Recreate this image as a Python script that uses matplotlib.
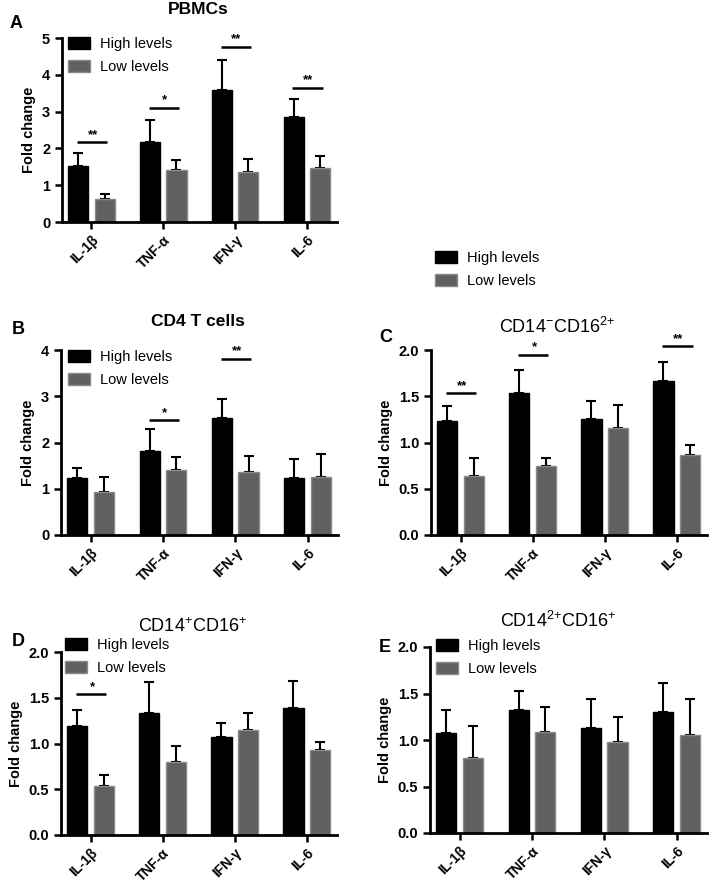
import numpy as np
import matplotlib
matplotlib.use("Agg")
import matplotlib.pyplot as plt

plt.rcParams['font.family'] = ['Liberation Sans', 'DejaVu Sans']
plt.rcParams['mathtext.default'] = 'regular'

cytokines = ['IL-1β', 'TNF-α', 'IFN-γ', 'IL-6']

# fold change means and top of error bars (mean + SEM)
pbmc_high = [1.53, 2.18, 3.60, 2.84]
pbmc_high_err = [1.87, 2.77, 4.39, 3.33]
pbmc_low = [0.63, 1.40, 1.36, 1.47]
pbmc_low_err = [0.77, 1.69, 1.70, 1.80]
pbmc_sig = {0: ('**', 2.17), 1: ('*', 3.10), 2: ('**', 4.76), 3: ('**', 3.65)}

cd4_high = [1.23, 1.82, 2.54, 1.23]
cd4_high_err = [1.44, 2.29, 2.95, 1.64]
cd4_low = [0.94, 1.41, 1.37, 1.25]
cd4_low_err = [1.25, 1.69, 1.71, 1.75]
cd4_sig = {1: ('*', 2.48), 2: ('**', 3.81)}

c_high = [1.23, 1.53, 1.25, 1.67]
c_high_err = [1.39, 1.78, 1.45, 1.87]
c_low = [0.64, 0.75, 1.16, 0.87]
c_low_err = [0.83, 0.83, 1.41, 0.97]
c_sig = {0: ('**', 1.53), 1: ('*', 1.95), 3: ('**', 2.04)}

d_high = [1.19, 1.33, 1.07, 1.39]
d_high_err = [1.37, 1.67, 1.22, 1.68]
d_low = [0.54, 0.80, 1.15, 0.93]
d_low_err = [0.66, 0.97, 1.33, 1.02]
d_sig = {0: ('*', 1.54)}

e_high = [1.08, 1.32, 1.13, 1.30]
e_high_err = [1.32, 1.53, 1.44, 1.61]
e_low = [0.81, 1.09, 0.98, 1.05]
e_low_err = [1.15, 1.35, 1.25, 1.44]
e_sig = {}

W, H = 709, 886
fig = plt.figure(figsize=(W / 100, H / 100), dpi=100)

BLACK = '#000000'
GRAY = '#606060'
GRAY_EDGE = '#8a8a8a'
off = 0.184
bw = 0.28


def px_axes(left, top, right, bottom):
    return fig.add_axes([left / W, 1 - bottom / H, (right - left) / W, (bottom - top) / H])


def panel(ax, high, high_err, low, low_err, sig, ymax, step, fmt):
    x = np.arange(len(cytokines))
    ax.errorbar(x - off, high, yerr=[np.zeros(4), np.array(high_err) - np.array(high)],
                fmt='none', ecolor='black', elinewidth=1.5, capsize=3.6, capthick=1.5, zorder=1)
    ax.errorbar(x + off, low, yerr=[np.zeros(4), np.array(low_err) - np.array(low)],
                fmt='none', ecolor='black', elinewidth=1.5, capsize=3.6, capthick=1.5, zorder=1)
    ax.bar(x - off, high, bw, color=BLACK, edgecolor=BLACK, linewidth=1, zorder=2, label='High levels')
    ax.bar(x + off, low, bw, color=GRAY, edgecolor=GRAY_EDGE, linewidth=1, zorder=2, label='Low levels')
    for i, (stars, y) in sig.items():
        ax.plot([i - 0.2, i + 0.22], [y, y], color='black', lw=1.8, solid_capstyle='butt', clip_on=False)
        ax.annotate(stars, (i + 0.02, y), xytext=(0, 1), textcoords='offset points',
                    ha='center', va='bottom', fontsize=9.5, fontweight='bold', annotation_clip=False)
    ax.set_xlim(-0.41, 3.42)
    ax.set_ylim(0, ymax)
    ax.set_yticks(np.arange(0, ymax + 1e-9, step))
    ax.set_yticklabels([fmt % v for v in np.arange(0, ymax + 1e-9, step)])
    ax.set_xticks(x)
    ax.set_xticklabels(cytokines, rotation=45, ha='right', rotation_mode='anchor')
    for s in ['top', 'right']:
        ax.spines[s].set_visible(False)
    for s in ['left', 'bottom']:
        ax.spines[s].set_linewidth(2)
    ax.tick_params(width=1.8, length=5)
    ax.tick_params(axis='y', labelsize=10.5)
    ax.tick_params(axis='x', labelsize=10, pad=3)
    for lab in ax.get_xticklabels() + ax.get_yticklabels():
        lab.set_fontweight('bold')
    ax.set_ylabel('Fold change', fontsize=10.5, fontweight='bold', labelpad=4)


def legend(ax, x_px, y_px):
    ax.legend(loc='upper left', bbox_to_anchor=(x_px / W, 1 - y_px / H), bbox_transform=fig.transFigure,
              frameon=False, fontsize=10.5, handlelength=1.5, handleheight=0.9,
              handletextpad=0.7, labelspacing=0.6, borderpad=0, borderaxespad=0)


# A
axA = px_axes(62, 38, 337, 222)
panel(axA, pbmc_high, pbmc_high_err, pbmc_low, pbmc_low_err, pbmc_sig, 5, 1, '%d')
legend(axA, 68, 37)
fig.text(198 / W, 1 - 10 / H, 'PBMCs', ha='center', va='center', fontsize=12.5, fontweight='bold')
fig.text(10 / W, 1 - 23 / H, 'A', ha='left', va='center', fontsize=13, fontweight='bold')

# B
axB = px_axes(61, 350, 338, 535)
panel(axB, cd4_high, cd4_high_err, cd4_low, cd4_low_err, cd4_sig, 4, 1, '%d')
legend(axB, 68, 350)
fig.text(198 / W, 1 - 321 / H, 'CD4 T cells', ha='center', va='center', fontsize=12.5, fontweight='bold')
fig.text(12 / W, 1 - 329 / H, 'B', ha='left', va='center', fontsize=13, fontweight='bold')

# C
axC = px_axes(431, 350, 707, 535)
panel(axC, c_high, c_high_err, c_low, c_low_err, c_sig, 2.0, 0.5, '%.1f')
legend(axC, 435, 251)
fig.text(557 / W, 1 - 327 / H, 'CD14$^{-}$CD16$^{2}$$^{+}$', ha='center', va='center', fontsize=13)
fig.text(379 / W, 1 - 337 / H, 'C', ha='left', va='center', fontsize=13, fontweight='bold')

# D
axD = px_axes(61, 652, 337, 835)
panel(axD, d_high, d_high_err, d_low, d_low_err, d_sig, 2.0, 0.5, '%.1f')
legend(axD, 65, 638)
fig.text(192 / W, 1 - 627 / H, 'CD14$^{+}$CD16$^{+}$', ha='center', va='center', fontsize=13)
fig.text(12 / W, 1 - 641 / H, 'D', ha='left', va='center', fontsize=13, fontweight='bold')

# E
axE = px_axes(430, 647, 707, 833)
panel(axE, e_high, e_high_err, e_low, e_low_err, e_sig, 2.0, 0.5, '%.1f')
legend(axE, 436, 639)
fig.text(558 / W, 1 - 621 / H, 'CD14$^{2}$$^{+}$CD16$^{+}$', ha='center', va='center', fontsize=13)
fig.text(379 / W, 1 - 647 / H, 'E', ha='left', va='center', fontsize=13, fontweight='bold')

fig.savefig('out.png', dpi=100)
